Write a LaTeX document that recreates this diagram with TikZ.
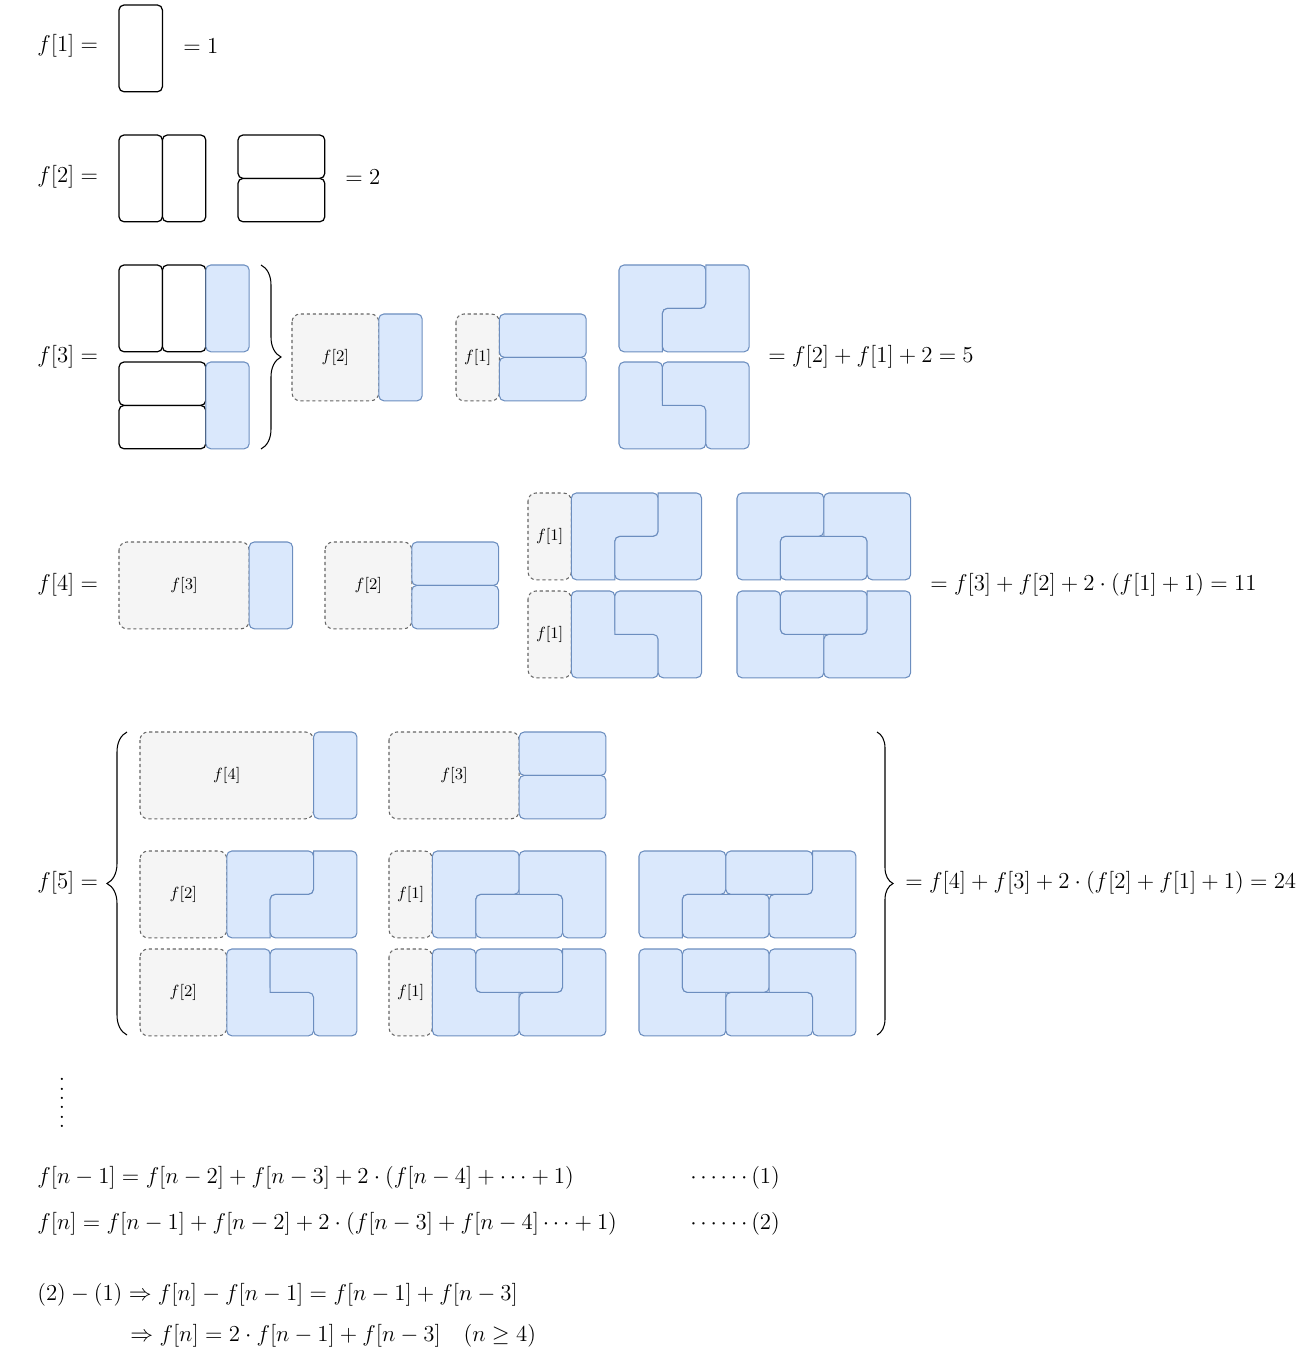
\RequirePackage{fix-cm}
\documentclass[tikz,border=0pt]{standalone}
\usetikzlibrary{decorations.pathreplacing}
\definecolor{tilefill}{HTML}{DAE8FC}
\definecolor{tileedge}{HTML}{6C8EBF}
\definecolor{ghostfill}{HTML}{F5F5F5}
\definecolor{ghostedge}{HTML}{666666}

\begin{document}
\begin{tikzpicture}[x=0.02cm, y=-0.02cm,
    cellunits/.style ={x=0.868cm, y=-0.868cm},
    plain/.style ={draw=black, fill=white, line width=0.7pt, rounded corners=0.1cm},
    tile/.style ={draw=tileedge, fill=tilefill, line width=0.6pt, rounded corners=0.1cm},
    ghost/.style ={draw=ghostedge, fill=ghostfill, line width=0.6pt, dash pattern=on 1.8pt off 1.6pt, rounded corners=0.16cm},
    ghostlabel/.style ={inner sep=0pt, font=\fontsize{9.2}{11}\selectfont},
    eqn/.style ={anchor=west, inner sep=0pt, font=\fontsize{13}{16}\selectfont},
    curly/.style ={decorate, line width=0.6pt, decoration={brace, amplitude=#1}},
    ltop/.pic ={\draw[tile] (0,0) -- (2,0) -- (2,1) -- (1,1) [sharp corners] -- (1,2) [rounded corners=0.1cm] -- (0,2) -- cycle;
                \draw[tile] (3,0) -- (3,2) -- (1,2) -- (1,1) -- (2,1) [sharp corners] -- (2,0) [rounded corners=0.1cm] -- cycle;},
    lbot/.pic ={\draw[tile] (0,0) -- (1,0) -- (1,1) [sharp corners] -- (2,1) [rounded corners=0.1cm] -- (2,2) -- (0,2) -- cycle;
                \draw[tile] (1,0) -- (3,0) -- (3,2) -- (2,2) -- (2,1) [sharp corners] -- (1,1) [rounded corners=0.1cm] -- cycle;},
    ttop/.pic ={\draw[tile] (0,0) -- (2,0) -- (2,1) -- (1,1) [sharp corners] -- (1,2) [rounded corners=0.1cm] -- (0,2) -- cycle;
                \draw[tile] (1,1) rectangle (3,2);
                \draw[tile] (2,0) -- (4,0) -- (4,2) -- (3,2) -- (3,1) [sharp corners] -- (2,1) [rounded corners=0.1cm] -- cycle;},
    tbot/.pic ={\draw[tile] (0,0) -- (1,0) -- (1,1) [sharp corners] -- (2,1) [rounded corners=0.1cm] -- (2,2) -- (0,2) -- cycle;
                \draw[tile] (1,0) rectangle (3,1);
                \draw[tile] (4,0) -- (4,2) -- (2,2) -- (2,1) -- (3,1) [sharp corners] -- (3,0) [rounded corners=0.1cm] -- cycle;}]

  \useasboundingbox (0,0) rectangle (1310,1368);

  % f[1]
  \node[eqn] (f1) at (37,46) {$f[1] =$};
  \begin{scope}[shift={(119,5)}, cellunits]
    \draw[plain] (0,0) rectangle (1,2);
  \end{scope}
  \node[eqn] (r1) at (183,46) {$= 1$};

  % f[2]
  \node[eqn] (f2) at (37,177) {$f[2] =$};
  \begin{scope}[shift={(119,135)}, cellunits]
    \draw[plain] (0,0) rectangle (1,2);
    \draw[plain] (1,0) rectangle (2,2);
  \end{scope}
  \begin{scope}[shift={(238,135)}, cellunits]
    \draw[plain] (0,0) rectangle (2,1);
    \draw[plain] (0,1) rectangle (2,2);
  \end{scope}
  \node[eqn] (r2) at (345,177) {$= 2$};

  % f[3]
  \node[eqn] (f3) at (37,357) {$f[3] =$};
  \begin{scope}[shift={(119,265)}, cellunits]
    \draw[plain] (0,0) rectangle (1,2);
    \draw[plain] (1,0) rectangle (2,2);
    \draw[tile] (2,0) rectangle (3,2);
  \end{scope}
  \begin{scope}[shift={(119,362)}, cellunits]
    \draw[plain] (0,0) rectangle (2,1);
    \draw[plain] (0,1) rectangle (2,2);
    \draw[tile] (2,0) rectangle (3,2);
  \end{scope}
  \coordinate (b3t) at (261,265);
  \coordinate (b3b) at (261,449);
  \draw[curly=0.4cm] (b3t) -- (b3b);
  \begin{scope}[shift={(292,314)}, cellunits]
    \draw[ghost] (0,0) rectangle (2,2);
    \node[ghostlabel] (g32) at (1,1) {$f[2]$};
    \draw[tile] (2,0) rectangle (3,2);
  \end{scope}
  \begin{scope}[shift={(456,314)}, cellunits]
    \draw[ghost] (0,0) rectangle (1,2);
    \node[ghostlabel] (g31) at (0.5,1) {$f[1]$};
    \draw[tile] (1,0) rectangle (3,1);
    \draw[tile] (1,1) rectangle (3,2);
  \end{scope}
  \begin{scope}[shift={(619,265)}, cellunits]
    \pic {ltop};
  \end{scope}
  \begin{scope}[shift={(619,362)}, cellunits]
    \pic {lbot};
  \end{scope}
  \node[eqn] (r3) at (768,357) {$= f[2] + f[1] + 2 = 5$};

  % f[4]
  \node[eqn] (f4) at (37,585) {$f[4] =$};
  \begin{scope}[shift={(119,542)}, cellunits]
    \draw[ghost] (0,0) rectangle (3,2);
    \node[ghostlabel] (g43) at (1.5,1) {$f[3]$};
    \draw[tile] (3,0) rectangle (4,2);
  \end{scope}
  \begin{scope}[shift={(325,542)}, cellunits]
    \draw[ghost] (0,0) rectangle (2,2);
    \node[ghostlabel] (g42) at (1,1) {$f[2]$};
    \draw[tile] (2,0) rectangle (4,1);
    \draw[tile] (2,1) rectangle (4,2);
  \end{scope}
  \begin{scope}[shift={(528,493)}, cellunits]
    \draw[ghost] (0,0) rectangle (1,2);
    \node[ghostlabel] (g41a) at (0.5,1) {$f[1]$};
    \pic at (1,0) {ltop};
  \end{scope}
  \begin{scope}[shift={(528,591)}, cellunits]
    \draw[ghost] (0,0) rectangle (1,2);
    \node[ghostlabel] (g41b) at (0.5,1) {$f[1]$};
    \pic at (1,0) {lbot};
  \end{scope}
  \begin{scope}[shift={(737,493)}, cellunits]
    \pic {ttop};
  \end{scope}
  \begin{scope}[shift={(737,591)}, cellunits]
    \pic {tbot};
  \end{scope}
  \node[eqn] (r4) at (930,585) {$= f[3] + f[2] + 2 \cdot (f[1] + 1) = 11$};

  % f[5]
  \node[eqn] (f5) at (37,883) {$f[5] =$};
  \coordinate (b5lt) at (127,732);
  \coordinate (b5lb) at (127,1035);
  \draw[curly=0.4cm] (b5lb) -- (b5lt);
  \begin{scope}[shift={(140,732)}, cellunits]
    \draw[ghost] (0,0) rectangle (4,2);
    \node[ghostlabel] (g54) at (2,1) {$f[4]$};
    \draw[tile] (4,0) rectangle (5,2);
  \end{scope}
  \begin{scope}[shift={(389,732)}, cellunits]
    \draw[ghost] (0,0) rectangle (3,2);
    \node[ghostlabel] (g53) at (1.5,1) {$f[3]$};
    \draw[tile] (3,0) rectangle (5,1);
    \draw[tile] (3,1) rectangle (5,2);
  \end{scope}
  \begin{scope}[shift={(140,851)}, cellunits]
    \draw[ghost] (0,0) rectangle (2,2);
    \node[ghostlabel] (g52a) at (1,1) {$f[2]$};
    \pic at (2,0) {ltop};
  \end{scope}
  \begin{scope}[shift={(140,949)}, cellunits]
    \draw[ghost] (0,0) rectangle (2,2);
    \node[ghostlabel] (g52b) at (1,1) {$f[2]$};
    \pic at (2,0) {lbot};
  \end{scope}
  \begin{scope}[shift={(389,851)}, cellunits]
    \draw[ghost] (0,0) rectangle (1,2);
    \node[ghostlabel] (g51a) at (0.5,1) {$f[1]$};
    \pic at (1,0) {ttop};
  \end{scope}
  \begin{scope}[shift={(389,949)}, cellunits]
    \draw[ghost] (0,0) rectangle (1,2);
    \node[ghostlabel] (g51b) at (0.5,1) {$f[1]$};
    \pic at (1,0) {tbot};
  \end{scope}
  \begin{scope}[shift={(639,851)}, cellunits]
    \draw[tile] (0,0) -- (2,0) -- (2,1) -- (1,1) [sharp corners] -- (1,2) [rounded corners=0.1cm] -- (0,2) -- cycle;
    \draw[tile] (2,0) rectangle (4,1);
    \draw[tile] (1,1) rectangle (3,2);
    \draw[tile] (5,0) -- (5,2) -- (3,2) -- (3,1) -- (4,1) [sharp corners] -- (4,0) [rounded corners=0.1cm] -- cycle;
  \end{scope}
  \begin{scope}[shift={(639,949)}, cellunits]
    \draw[tile] (0,0) -- (1,0) -- (1,1) [sharp corners] -- (2,1) [rounded corners=0.1cm] -- (2,2) -- (0,2) -- cycle;
    \draw[tile] (1,0) rectangle (3,1);
    \draw[tile] (2,1) rectangle (4,2);
    \draw[tile] (3,0) -- (5,0) -- (5,2) -- (4,2) -- (4,1) [sharp corners] -- (3,1) [rounded corners=0.1cm] -- cycle;
  \end{scope}
  \coordinate (b5rt) at (877,732);
  \coordinate (b5rb) at (877,1035);
  \draw[curly=0.32cm] (b5rt) -- (b5rb);
  \node[eqn] (r5) at (905,883) {$= f[4] + f[3] + 2 \cdot (f[2] + f[1] + 1) = 24$};

  % general case
  \node[inner sep=0pt, font=\fontsize{13}{16}\selectfont] (dots) at (62,1103)
    {\vbox{\baselineskip5.3pt\lineskiplimit0pt\hbox{.}\hbox{.}\hbox{.}\hbox{.}\hbox{.}\hbox{.}}};
  \node[eqn] (e1) at (37,1178) {$f[n-1] = f[n-2] + f[n-3] + 2 \cdot (f[n-4] + \cdots + 1)$};
  \node[eqn] (t1) at (690,1178) {$\cdots\cdots(1)$};
  \node[eqn] (e2) at (37,1224) {$f[n] = f[n-1] + f[n-2] + 2 \cdot (f[n-3] + f[n-4] \cdots + 1)$};
  \node[eqn] (t2) at (690,1224) {$\cdots\cdots(2)$};
  \node[eqn] (d1) at (37,1295) {$(2) - (1) \Rightarrow f[n] - f[n-1] = f[n-1] + f[n-3]$};
  \node[eqn] (d2) at (130,1336) {$\Rightarrow f[n] = 2 \cdot f[n-1] + f[n-3] \quad (n \geq 4)$};
\end{tikzpicture}
\end{document}
